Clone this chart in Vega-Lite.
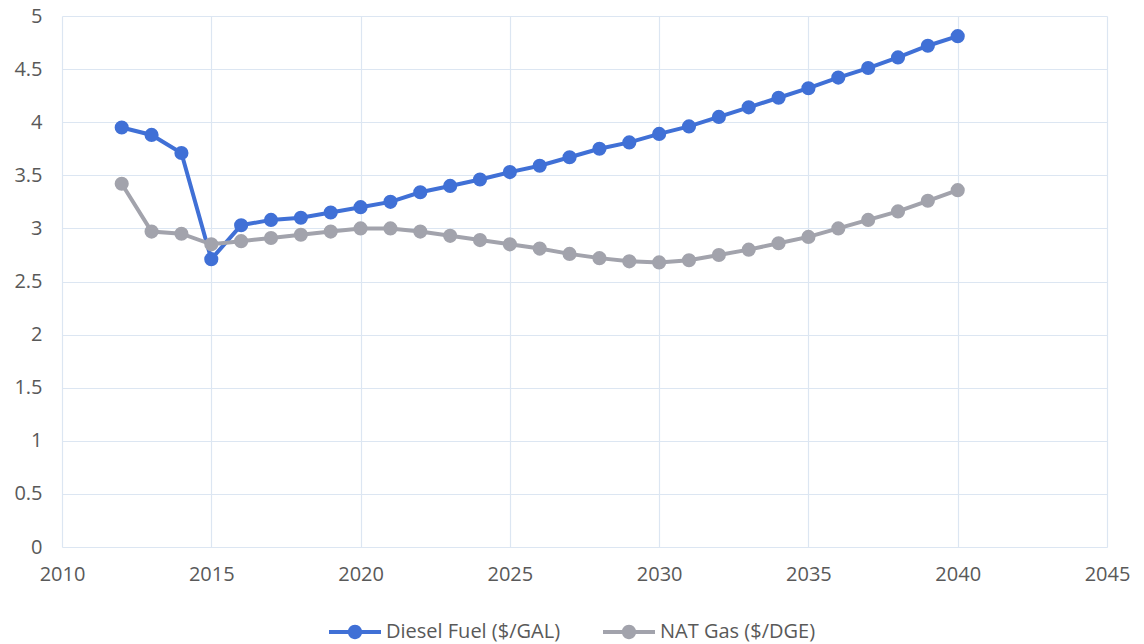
{
  "$schema": "https://vega.github.io/schema/vega-lite/v6.json",
  "width": 1045,
  "height": 531,
  "autosize": {"type": "none"},
  "padding": {"left": 62, "top": 16, "right": 37, "bottom": 97},
  "background": "white",
  "config": {
    "view": {"stroke": null},
    "font": "Open Sans",
    "axis": {"labelFont": "Open Sans", "labelColor": "#595959", "labelFontSize": 20, "gridColor": "#DCE6F2", "gridWidth": 1.2, "ticks": false, "title": null, "domain": false, "labelFlush": false}
  },
  "data": {"values": [
    {"year": 2012, "series": "Diesel Fuel ($/GAL)", "price": 3.95},
    {"year": 2013, "series": "Diesel Fuel ($/GAL)", "price": 3.88},
    {"year": 2014, "series": "Diesel Fuel ($/GAL)", "price": 3.71},
    {"year": 2015, "series": "Diesel Fuel ($/GAL)", "price": 2.71},
    {"year": 2016, "series": "Diesel Fuel ($/GAL)", "price": 3.03},
    {"year": 2017, "series": "Diesel Fuel ($/GAL)", "price": 3.08},
    {"year": 2018, "series": "Diesel Fuel ($/GAL)", "price": 3.10},
    {"year": 2019, "series": "Diesel Fuel ($/GAL)", "price": 3.15},
    {"year": 2020, "series": "Diesel Fuel ($/GAL)", "price": 3.20},
    {"year": 2021, "series": "Diesel Fuel ($/GAL)", "price": 3.25},
    {"year": 2022, "series": "Diesel Fuel ($/GAL)", "price": 3.34},
    {"year": 2023, "series": "Diesel Fuel ($/GAL)", "price": 3.40},
    {"year": 2024, "series": "Diesel Fuel ($/GAL)", "price": 3.46},
    {"year": 2025, "series": "Diesel Fuel ($/GAL)", "price": 3.53},
    {"year": 2026, "series": "Diesel Fuel ($/GAL)", "price": 3.59},
    {"year": 2027, "series": "Diesel Fuel ($/GAL)", "price": 3.67},
    {"year": 2028, "series": "Diesel Fuel ($/GAL)", "price": 3.75},
    {"year": 2029, "series": "Diesel Fuel ($/GAL)", "price": 3.81},
    {"year": 2030, "series": "Diesel Fuel ($/GAL)", "price": 3.89},
    {"year": 2031, "series": "Diesel Fuel ($/GAL)", "price": 3.96},
    {"year": 2032, "series": "Diesel Fuel ($/GAL)", "price": 4.05},
    {"year": 2033, "series": "Diesel Fuel ($/GAL)", "price": 4.14},
    {"year": 2034, "series": "Diesel Fuel ($/GAL)", "price": 4.23},
    {"year": 2035, "series": "Diesel Fuel ($/GAL)", "price": 4.32},
    {"year": 2036, "series": "Diesel Fuel ($/GAL)", "price": 4.42},
    {"year": 2037, "series": "Diesel Fuel ($/GAL)", "price": 4.51},
    {"year": 2038, "series": "Diesel Fuel ($/GAL)", "price": 4.61},
    {"year": 2039, "series": "Diesel Fuel ($/GAL)", "price": 4.72},
    {"year": 2040, "series": "Diesel Fuel ($/GAL)", "price": 4.81},
    {"year": 2012, "series": "NAT Gas ($/DGE)", "price": 3.42},
    {"year": 2013, "series": "NAT Gas ($/DGE)", "price": 2.97},
    {"year": 2014, "series": "NAT Gas ($/DGE)", "price": 2.95},
    {"year": 2015, "series": "NAT Gas ($/DGE)", "price": 2.85},
    {"year": 2016, "series": "NAT Gas ($/DGE)", "price": 2.88},
    {"year": 2017, "series": "NAT Gas ($/DGE)", "price": 2.91},
    {"year": 2018, "series": "NAT Gas ($/DGE)", "price": 2.94},
    {"year": 2019, "series": "NAT Gas ($/DGE)", "price": 2.97},
    {"year": 2020, "series": "NAT Gas ($/DGE)", "price": 3.00},
    {"year": 2021, "series": "NAT Gas ($/DGE)", "price": 3.00},
    {"year": 2022, "series": "NAT Gas ($/DGE)", "price": 2.97},
    {"year": 2023, "series": "NAT Gas ($/DGE)", "price": 2.93},
    {"year": 2024, "series": "NAT Gas ($/DGE)", "price": 2.89},
    {"year": 2025, "series": "NAT Gas ($/DGE)", "price": 2.85},
    {"year": 2026, "series": "NAT Gas ($/DGE)", "price": 2.81},
    {"year": 2027, "series": "NAT Gas ($/DGE)", "price": 2.76},
    {"year": 2028, "series": "NAT Gas ($/DGE)", "price": 2.72},
    {"year": 2029, "series": "NAT Gas ($/DGE)", "price": 2.69},
    {"year": 2030, "series": "NAT Gas ($/DGE)", "price": 2.68},
    {"year": 2031, "series": "NAT Gas ($/DGE)", "price": 2.70},
    {"year": 2032, "series": "NAT Gas ($/DGE)", "price": 2.75},
    {"year": 2033, "series": "NAT Gas ($/DGE)", "price": 2.80},
    {"year": 2034, "series": "NAT Gas ($/DGE)", "price": 2.86},
    {"year": 2035, "series": "NAT Gas ($/DGE)", "price": 2.92},
    {"year": 2036, "series": "NAT Gas ($/DGE)", "price": 3.00},
    {"year": 2037, "series": "NAT Gas ($/DGE)", "price": 3.08},
    {"year": 2038, "series": "NAT Gas ($/DGE)", "price": 3.16},
    {"year": 2039, "series": "NAT Gas ($/DGE)", "price": 3.26},
    {"year": 2040, "series": "NAT Gas ($/DGE)", "price": 3.36}
  ]},
  "encoding": {
    "x": {"field": "year", "type": "quantitative",
      "scale": {"domain": [2010, 2045], "nice": false, "zero": false},
      "axis": {"values": [2010, 2015, 2020, 2025, 2030, 2035, 2040, 2045], "format": "d", "labelPadding": 17}},
    "y": {"field": "price", "type": "quantitative",
      "scale": {"domain": [0, 5], "nice": false},
      "axis": {"values": [0, 0.5, 1, 1.5, 2, 2.5, 3, 3.5, 4, 4.5, 5], "format": "~g", "labelPadding": 20}},
    "color": {"field": "series", "type": "nominal",
      "scale": {"domain": ["Diesel Fuel ($/GAL)", "NAT Gas ($/DGE)"], "range": ["#4070D6", "#A2A3AC"]},
      "legend": {"title": null, "orient": "none", "direction": "horizontal", "legendX": 280, "legendY": 603,
        "symbolType": "M-2,-0.15L2,-0.15L2,0.15L-2,0.15Z M0.55,0A0.55,0.55,0,1,1,-0.55,0A0.55,0.55,0,1,1,0.55,0Z",
        "symbolSize": 676, "symbolStrokeWidth": 0, "labelOffset": 18, "labelFontSize": 20, "labelColor": "#595959", "labelFont": "Open Sans", "columnPadding": 42, "labelLimit": 400}}
  },
  "layer": [
    {"mark": {"type": "line", "strokeWidth": 4}},
    {"mark": {"type": "point", "filled": true, "size": 200, "opacity": 1}}
  ]
}
